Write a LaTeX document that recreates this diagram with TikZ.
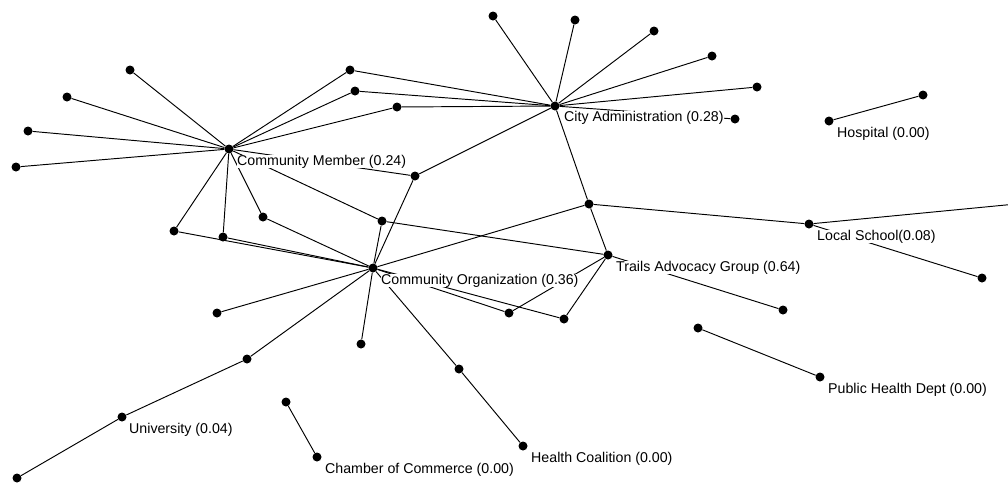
\documentclass[tikz,border=0pt]{standalone}
\usepackage{fontspec}
\setmainfont{Liberation Sans}
\usetikzlibrary{calc}
\begin{document}
\begin{tikzpicture}[x=1pt,y=-1pt,
  dot/.style={circle,fill=black,inner sep=0pt,minimum size=9pt},
  edge/.style={line width=0.95pt,black},
  lbl/.style={anchor=base west,fill=white,inner sep=0pt,font=\fontsize{14.2}{16}\selectfont}]
\useasboundingbox (0,0) rectangle (1008,483);
\clip (0,0) rectangle (1008,483);
% hubs and labelled actors
\node[dot] (CM) at (229,149) {};
\node[dot] (CA) at (555,106) {};
\node[dot] (CO) at (373,268) {};
\node[dot] (TR) at (608,255) {};
\node[dot] (LS) at (809,224) {};
\node[dot] (HO) at (829,121) {};
\node[dot] (UN) at (122,417) {};
\node[dot] (CC) at (317,457) {};
\node[dot] (HC) at (523,446) {};
\node[dot] (PH) at (820,377) {};
% unlabelled actors
\node[dot] (a1) at (130,70) {};
\node[dot] (a2) at (67,97) {};
\node[dot] (a3) at (28,131) {};
\node[dot] (a4) at (16,167) {};
\node[dot] (a5) at (263,217) {};
\node[dot] (a6) at (174,231) {};
\node[dot] (a7) at (223,237) {};
\node[dot] (b1) at (493,16) {};
\node[dot] (b2) at (575,20) {};
\node[dot] (b3) at (654,31) {};
\node[dot] (b4) at (350,70) {};
\node[dot] (b5) at (355,91) {};
\node[dot] (b6) at (397,107) {};
\node[dot] (b7) at (415,176) {};
\node[dot] (b8) at (382,221) {};
\node[dot] (b9) at (589,204) {};
\node[dot] (c1) at (712,56) {};
\node[dot] (c2) at (757,87) {};
\node[dot] (c3) at (735,119) {};
\node[dot] (c4) at (923,95) {};
\node[dot] (e1) at (1016,204) {};
\node[dot] (e2) at (982,278) {};
\node[dot] (f1) at (217,313) {};
\node[dot] (f2) at (247,359) {};
\node[dot] (f3) at (17,478) {};
\node[dot] (f4) at (286,402) {};
\node[dot] (g1) at (509,313) {};
\node[dot] (g2) at (564,319) {};
\node[dot] (g3) at (361,344) {};
\node[dot] (g4) at (459,369) {};
\node[dot] (h1) at (783,310) {};
\node[dot] (h2) at (698,328) {};
% edges
\foreach \t in {a1,a2,a3,a4,a5,a6,a7,b4,b5,b6,b7,b8} \draw[edge] (CM) -- (\t);
\foreach \t in {b1,b2,b3,c1,c2,c3,b4,b5,b6,b7,b9} \draw[edge] (CA) -- (\t);
\foreach \t in {a5,a6,a7,b7,b8,b9,f1,f2,g1,g2,g3,g4} \draw[edge] (CO) -- (\t);
\foreach \t in {b8,b9,g1,g2,h1} \draw[edge] (TR) -- (\t);
\foreach \t in {b9,e1,e2} \draw[edge] (LS) -- (\t);
\draw[edge] (HO) -- (c4);
\draw[edge] (UN) -- (f2);
\draw[edge] (UN) -- (f3);
\draw[edge] (CC) -- (f4);
\draw[edge] (HC) -- (g4);
\draw[edge] (PH) -- (h2);
% labels
\node[lbl] (CMl) at ($(CM)+(8,16.5)$) {Community Member (0.24)};
\node[lbl] (CAl) at ($(CA)+(9,15.5)$) {City Administration (0.28)};
\node[lbl] (COl) at ($(CO)+(8,16.5)$) {Community Organization (0.36)};
\node[lbl] (TRl) at ($(TR)+(8,16.5)$) {Trails Advocacy Group (0.64)};
\node[lbl] (LSl) at ($(LS)+(8,16)$) {Local School(0.08)};
\node[lbl] (HOl) at ($(HO)+(8,16.5)$) {Hospital (0.00)};
\node[lbl] (UNl) at ($(UN)+(7,16)$) {University (0.04)};
\node[lbl] (CCl) at ($(CC)+(8,16)$) {Chamber of Commerce (0.00)};
\node[lbl] (HCl) at ($(HC)+(8,16)$) {Health Coalition (0.00)};
\node[lbl] (PHl) at ($(PH)+(8,16.5)$) {Public Health Dept (0.00)};
\end{tikzpicture}
\end{document}
